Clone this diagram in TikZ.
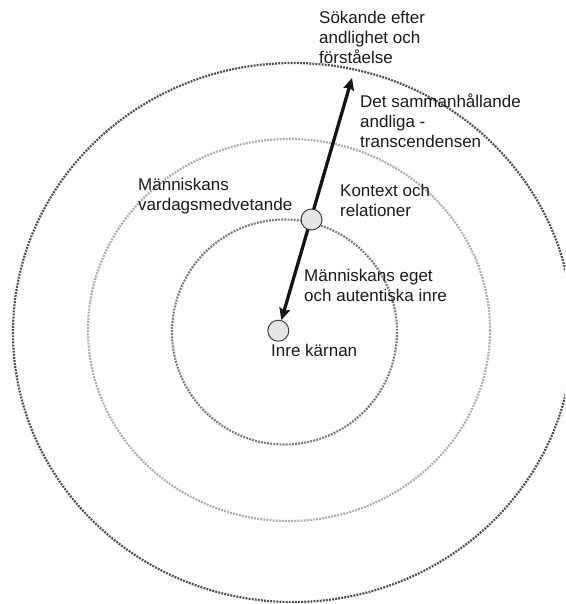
\documentclass[tikz,border=0pt]{standalone}
\usepackage{fontspec}
\setmainfont{Liberation Sans}
\usetikzlibrary{arrows.meta}
\pgfdeclarelayer{bg}
\pgfsetlayers{bg,main}
\definecolor{outerc}{HTML}{4D4D4D}
\definecolor{midc}{HTML}{ADADAD}
\definecolor{innerc}{HTML}{7A7A7A}
\definecolor{txtc}{HTML}{1A1A1A}
\definecolor{nodefill}{HTML}{E6E6E6}
\tikzset{
  ring/.style={line width=2.2pt, dash pattern=on 1.9pt off 1.2pt},
  dotnode/.style={circle, draw=black!80, fill=nodefill, line width=0.9pt, minimum size=21pt, inner sep=0pt},
  lbl/.style={anchor=west, align=left, inner sep=0pt, text=txtc, font=\fontsize{17}{20}\selectfont},
  arrowline/.style={line width=3.3pt, draw=black!92, {Stealth[length=12pt,width=11pt,inset=2pt]}-{Stealth[length=12pt,width=11pt,inset=2pt]}}
}
\begin{document}
\begin{tikzpicture}[x=1pt,y=-1pt]
\useasboundingbox (0,0) rectangle (565,604);
\begin{pgfonlayer}{bg}
\clip (0,0) rectangle (565,604);
\draw[ring, outerc] (293,332.5) ellipse [x radius=280, y radius=269.5];
\draw[ring, midc] (289,330) ellipse [x radius=201, y radius=191];
\draw[ring, innerc] (284.5,332) ellipse [x radius=112.5, y radius=112.5];
\end{pgfonlayer}
\node[dotnode] (kontext) at (311.5,219.5) {};
\node[dotnode] (karna) at (278.3,330.7) {};
\coordinate (tip) at (352,78);
\begin{pgfonlayer}{bg}
\draw[arrowline] (karna) -- (tip);
\end{pgfonlayer}
\node[lbl] (sok) at (319,37) {Sökande efter\\andlighet och\\förståelse};
\node[lbl] (det) at (360,121) {Det sammanhållande\\andliga -\\transcendensen};
\node[lbl] (kon) at (340,200) {Kontext och\\relationer};
\node[lbl] (vard) at (138,196) {Människans\\vardagsmedvetande};
\node[lbl] (eget) at (304,285) {Människans eget\\och autentiska inre};
\node[lbl] (inre) at (271,350) {Inre kärnan};
\end{tikzpicture}
\end{document}
